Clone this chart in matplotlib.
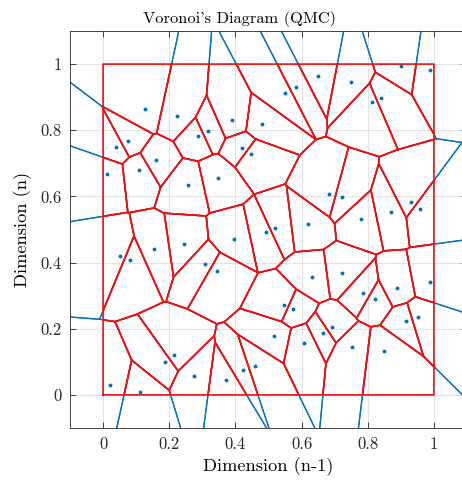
import numpy as np
import matplotlib
matplotlib.use('Agg')
import matplotlib.pyplot as plt

# sample points
px = [0.127, 0.224, 0.288, 0.316, 0.075, 0.040, 0.159, 0.110, 0.012, 0.391,
      0.480, 0.421, 0.447, 0.549, 0.584, 0.650, 0.900, 0.989, 0.749, 0.813,
      0.841, 0.256, 0.155, 0.052, 0.081, 0.244, 0.309, 0.346, 0.684, 0.618,
      0.521, 0.493, 0.395, 0.344, 0.632, 0.721, 0.780, 0.871, 0.930, 0.957,
      0.722, 0.887, 0.987, 0.214, 0.186, 0.275, 0.022, 0.113, 0.546, 0.573,
      0.516, 0.606, 0.665, 0.459, 0.423, 0.373, 0.787, 0.822, 0.916, 0.952,
      0.692, 0.752, 0.850]
py = [0.864, 0.843, 0.784, 0.797, 0.768, 0.749, 0.709, 0.680, 0.669, 0.830,
      0.818, 0.746, 0.727, 0.913, 0.931, 0.965, 0.994, 0.981, 0.946, 0.886,
      0.898, 0.635, 0.442, 0.421, 0.409, 0.455, 0.395, 0.655, 0.607, 0.516,
      0.504, 0.491, 0.470, 0.375, 0.356, 0.597, 0.533, 0.552, 0.582, 0.562,
      0.368, 0.323, 0.342, 0.120, 0.100, 0.058, 0.029, 0.009, 0.272, 0.260,
      0.177, 0.158, 0.187, 0.087, 0.075, 0.045, 0.309, 0.289, 0.224, 0.235,
      0.205, 0.144, 0.132]
ticks = [0, 0.2, 0.4, 0.6, 0.8, 1]
tick_labels = ['0', '0.2', '0.4', '0.6', '0.8', '1']

BLUE = '#0072bd'
RED = '#f01010'


def clip(poly, a, b, c):
    # keep the part of poly with a*x + b*y <= c
    out = []
    n = len(poly)
    for i in range(n):
        p, q = poly[i], poly[(i + 1) % n]
        fp = a * p[0] + b * p[1] - c
        fq = a * q[0] + b * q[1] - c
        if fp <= 0:
            out.append(p)
        if fp * fq < 0:
            t = fp / (fp - fq)
            out.append((p[0] + t * (q[0] - p[0]), p[1] + t * (q[1] - p[1])))
    return out


def cell(i, box):
    poly = list(box)
    xi, yi = px[i], py[i]
    for j in range(len(px)):
        if j == i:
            continue
        a, b = px[j] - xi, py[j] - yi
        c = (px[j]**2 + py[j]**2 - xi**2 - yi**2) / 2
        poly = clip(poly, a, b, c)
    return poly


plt.rcParams['font.family'] = 'serif'
plt.rcParams['font.serif'] = ['cmr10']
plt.rcParams['mathtext.fontset'] = 'cm'
plt.rcParams['axes.formatter.use_mathtext'] = True

fig = plt.figure(figsize=(4.62, 4.82), dpi=100)
ax = fig.add_axes([70/462, 54/482, 397/462, 397/482])

lo, hi = -5.0, 6.0
big = [(lo, lo), (hi, lo), (hi, hi), (lo, hi)]
unit = [(0, 0), (1, 0), (1, 1), (0, 1)]

def on_box(p):
    return min(abs(p[0]-lo), abs(p[0]-hi), abs(p[1]-lo), abs(p[1]-hi)) < 1e-9

for i in range(len(px)):
    poly = cell(i, big)
    n = len(poly)
    for k in range(n):
        p, q = poly[k], poly[(k + 1) % n]
        if on_box(p) and on_box(q):
            continue
        ax.plot([p[0], q[0]], [p[1], q[1]], color=BLUE, lw=0.9, zorder=2)

for i in range(len(px)):
    poly = cell(i, unit)
    xs = [p[0] for p in poly] + [poly[0][0]]
    ys = [p[1] for p in poly] + [poly[0][1]]
    ax.plot(xs, ys, color=RED, lw=1.2, zorder=3)

ax.plot(px, py, 'o', color=BLUE, ms=2.8, mec='none', zorder=4)

ax.set_xlim(-0.1, 1.1)
ax.set_ylim(-0.1, 1.1)
ax.set_xticks(ticks)
ax.set_xticklabels(tick_labels)
ax.set_yticks(ticks)
ax.set_yticklabels(tick_labels)
ax.tick_params(direction='in', length=4, width=0.6, labelsize=12,
               top=True, right=True, colors='#262626', pad=6)
for s in ax.spines.values():
    s.set_color('#262626')
    s.set_linewidth(0.6)
ax.grid(True, color='#e3e3e3', lw=0.8)
ax.set_axisbelow(True)

ax.set_title("Voronoi's Diagram (QMC)", fontsize=11.8, x=0.426, pad=6)
ax.set_xlabel('Dimension (n-1)', fontsize=13.2, labelpad=4)
ax.set_ylabel('Dimension (n)', fontsize=13.2, labelpad=6)

fig.savefig('out.png', dpi=100)
